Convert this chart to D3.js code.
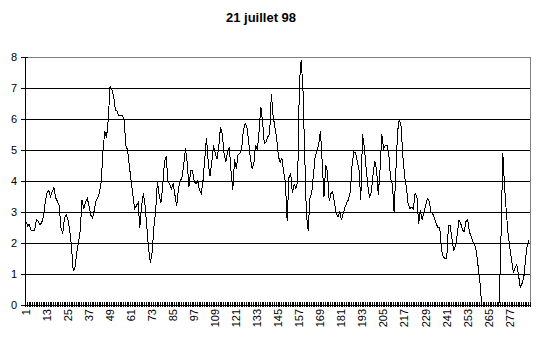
<!DOCTYPE html>
<html>
<head>
<meta charset="utf-8">
<script src="https://cdn.jsdelivr.net/npm/d3@7/dist/d3.min.js"></script>
<style>
  body { margin: 0; background: #fff; }
  text { font-family: "Liberation Sans", Arial, sans-serif; }
</style>
</head>
<body>
<div id="chart"></div>
<script>
const titre = "21 juillet 98";

// une valeur toutes les 5 minutes (288 points)
const valeurs = [
  2.7, 2.55, 2.6, 2.4, 2.4, 2.4, 2.75, 2.7, 2.6, 2.65,
  2.85, 3.3, 3.6, 3.7, 3.5, 3.65, 3.8, 3.45, 3.35, 3.2,
  2.5, 2.3, 2.8, 2.9, 2.75, 2.4, 1.9, 1.1, 1.2, 1.7,
  2.0, 2.4, 3.4, 3.1, 3.3, 3.45, 3.2, 2.9, 2.8, 3.05,
  3.35, 3.45, 3.65, 4.0, 5.0, 5.6, 5.4, 6.0, 7.05, 6.95,
  6.75, 6.3, 6.25, 6.1, 6.1, 6.1, 6.0, 5.15, 5.0, 4.5,
  4.0, 3.55, 3.1, 3.2, 3.3, 2.5, 3.2, 3.6, 3.2, 2.5,
  1.8, 1.35, 1.7, 2.5, 3.0, 4.0, 3.55, 3.3, 3.8, 4.6,
  4.8, 4.0, 3.9, 3.75, 3.9, 3.55, 3.2, 3.75, 4.0, 4.1,
  4.5, 5.05, 4.6, 3.8, 4.35, 4.35, 4.0,
  3.9, 4.0, 3.7, 3.6, 4.0, 4.7, 5.4, 4.6, 4.15, 4.6,
  5.15, 4.9, 4.7, 5.1, 5.75, 5.5, 4.9, 4.6, 4.95, 5.1,
  4.3, 3.7, 4.7, 4.4, 4.85, 4.9, 5.0, 5.6, 5.85, 5.75,
  5.3, 4.75, 4.4, 4.55, 5.15, 5.0, 5.6, 6.4, 5.9, 5.2,
  5.27, 5.43, 5.5, 6.8, 6.1, 5.75, 5.4, 4.8, 4.6, 4.75,
  4.3, 3.95, 2.7, 4.1, 4.25, 3.6, 3.9, 3.75, 4.0, 7.15,
  7.9, 7.0, 4.9, 2.9, 2.4, 3.45, 3.6, 4.2, 4.8, 4.95,
  5.2, 5.6, 4.6, 3.5, 4.5, 4.3, 3.35, 3.6, 3.65, 3.3,
  2.95, 2.85, 3.0, 2.75, 2.95, 3.15, 3.3, 3.4, 3.65, 4.5,
  4.95, 4.9, 4.65, 4.35, 3.4,
  5.5, 5.1, 4.45, 3.85, 3.45, 3.65, 4.2, 4.65, 4.35, 3.55,
  4.4, 5.5, 5.05, 5.15, 5.15, 4.85, 4.05, 3.92, 3.0, 4.3,
  5.6, 6.0, 5.75, 4.8, 4.15, 3.8, 3.25, 3.12, 3.15, 3.1,
  3.6, 3.5, 2.6, 3.05, 2.75, 3.0, 3.22, 3.44, 3.35, 3.0,
  2.95, 2.8, 2.62, 2.5, 2.5, 1.8, 1.55, 1.5, 1.5, 2.55,
  2.55, 2.15, 1.75, 1.9, 2.26, 2.74, 2.63, 2.42, 2.37, 2.7,
  2.75, 2.35, 2.2, 2.03, 1.95, 1.7, 1.2, 0.7, 0, 0,
  0, 0, 0, 0, 0, 0, 0, 0, 0.1, 2.3,
  4.9, 3.8, 3.0, 2.3, 1.85, 1.45, 1.05, 1.2, 1.3, 0.95,
  0.55, 0.7, 0.9, 1.5, 1.95, 2.1
];

const yTicks = [0, 1, 2, 3, 4, 5, 6, 7, 8];
const xTickLabels = ["1", "13", "25", "37", "49", "61", "73", "85", "97", "109", "121",
  "133", "145", "157", "169", "181", "193", "205", "217", "229", "241", "253", "265", "277"];

const categories = d3.range(1, valeurs.length + 1);

const W = 546, H = 340;
const margin = { top: 57, right: 16, bottom: 35, left: 25 };
const width = W - margin.left - margin.right,
  height = H - margin.top - margin.bottom;

const svg = d3.select("#chart").append("svg")
  .attr("width", W)
  .attr("height", H);

// titre
svg.append("text")
  .attr("x", 261)
  .attr("y", 22)
  .attr("text-anchor", "middle")
  .style("font-size", "13px")
  .style("font-weight", "bold")
  .text(titre);

const g = svg.append("g")
  .attr("transform", "translate(" + margin.left + "," + margin.top + ")");

const x = d3.scaleBand()
  .domain(categories)
  .range([0, width]);

// limites des categories (pour les graduations)
const xb = d3.scaleLinear()
  .domain([0, categories.length])
  .range([0, width]);

const y = d3.scaleLinear()
  .domain([0, 8])
  .range([height, 0]);

// cadre de la zone de traçage
g.append("rect")
  .attr("x", 0).attr("y", 0)
  .attr("width", width).attr("height", height)
  .attr("fill", "none")
  .attr("stroke", "#808080")
  .attr("shape-rendering", "crispEdges");

// quadrillage
g.selectAll(".grid")
  .data(yTicks.filter(d => d > 0 && d < 8))
  .enter().append("line")
  .attr("class", "grid")
  .attr("x1", 0).attr("x2", width)
  .attr("y1", d => y(d)).attr("y2", d => y(d))
  .attr("stroke", "#000")
  .attr("shape-rendering", "crispEdges");

// courbe
const line = d3.line()
  .x((d, i) => x(categories[i]) + x.bandwidth() / 2)
  .y(d => y(d));

g.append("path")
  .datum(valeurs)
  .attr("fill", "none")
  .attr("stroke", "#000")
  .attr("stroke-width", 1)
  .attr("shape-rendering", "crispEdges")
  .attr("d", line);

// axe Y
const yAxis = g.append("g")
  .call(d3.axisLeft(y).tickValues(yTicks).tickSize(4).tickPadding(4).tickSizeOuter(0));
yAxis.selectAll("line").attr("x2", -4).attr("x1", 3).attr("stroke", "#000");
yAxis.select(".domain").attr("stroke", "#000").attr("shape-rendering", "crispEdges");
yAxis.selectAll("text").style("font-size", "11px").attr("fill", "#000");

// graduations X (entre les categories)
const xTicksG = g.append("g")
  .attr("transform", "translate(0," + height + ")")
  .call(d3.axisBottom(xb).tickValues(d3.range(0, categories.length + 1)).tickFormat("").tickSizeOuter(0));
xTicksG.selectAll("line").attr("y1", -3).attr("y2", 2).attr("stroke", "#000")
  .attr("shape-rendering", "crispEdges");
xTicksG.select(".domain").attr("stroke", "#000").attr("shape-rendering", "crispEdges");

// etiquettes X
const xLabels = g.append("g")
  .attr("transform", "translate(0," + height + ")")
  .call(d3.axisBottom(x).tickValues(xTickLabels.map(Number)).tickSize(0));
xLabels.select(".domain").remove();
xLabels.selectAll("text")
  .attr("transform", "rotate(-90)")
  .attr("x", -4)
  .attr("y", 0)
  .attr("dy", "0.35em")
  .style("text-anchor", "end")
  .style("font-size", "11px")
  .attr("fill", "#000");
</script>
</body>
</html>
